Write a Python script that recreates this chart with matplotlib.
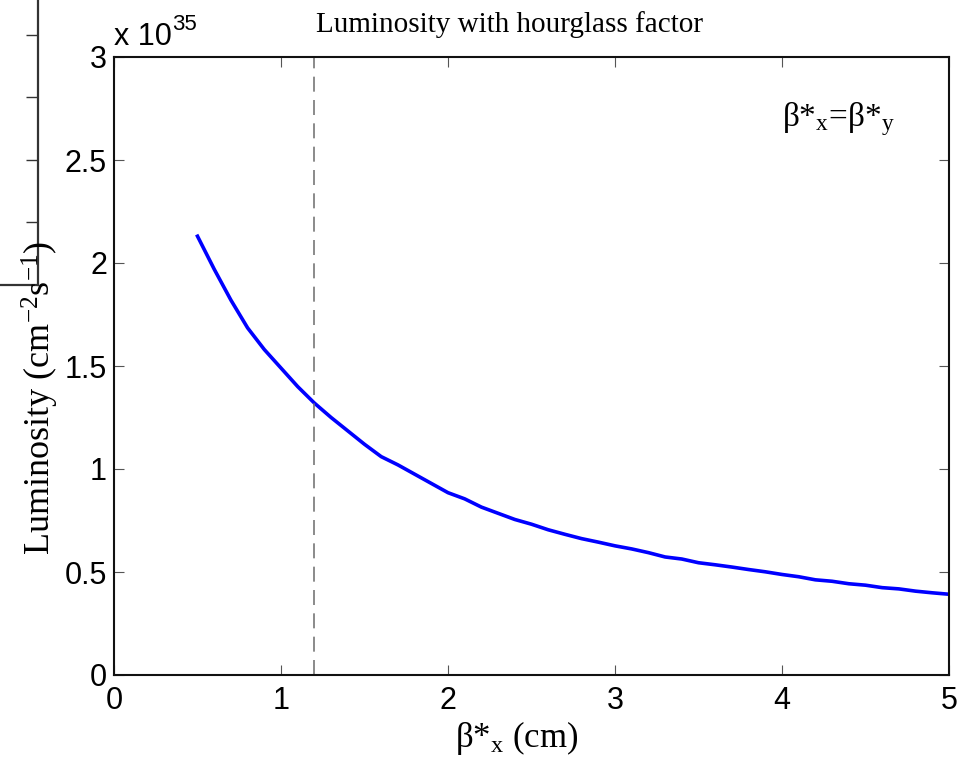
import matplotlib
matplotlib.use("Agg")
import matplotlib.pyplot as plt
import numpy as np

# beta*_x (cm) and luminosity (units of 1e35 cm^-2 s^-1)
beta_x = [0.5, 0.6, 0.7, 0.8, 0.9, 1.0, 1.1, 1.2, 1.3, 1.4,
          1.5, 1.6, 1.7, 1.8, 1.9, 2.0, 2.1, 2.2, 2.3, 2.4,
          2.5, 2.6, 2.7, 2.8, 2.9, 3.0, 3.1, 3.2, 3.3, 3.4,
          3.5, 3.6, 3.7, 3.8, 3.9, 4.0, 4.1, 4.2, 4.3, 4.4,
          4.5, 4.6, 4.7, 4.8, 4.9, 5.0]
lumi = [2.13, 1.97, 1.82, 1.685, 1.58, 1.49, 1.40, 1.32, 1.25, 1.185,
        1.12, 1.06, 1.02, 0.975, 0.93, 0.885, 0.855, 0.815, 0.785, 0.755,
        0.732, 0.705, 0.683, 0.662, 0.645, 0.627, 0.612, 0.594, 0.573, 0.563,
        0.545, 0.535, 0.524, 0.512, 0.501, 0.488, 0.477, 0.462, 0.455, 0.443,
        0.436, 0.424, 0.418, 0.407, 0.399, 0.392]
beta_cut = 1.2
xticks = [0, 1, 2, 3, 4, 5]
yticks = [0, 0.5, 1, 1.5, 2, 2.5, 3]
ytick_labels = ['0', '0.5', '1', '1.5', '2', '2.5', '3']

W, H = 959, 761
fig = plt.figure(figsize=(W / 100, H / 100), dpi=100)

sans = 'Liberation Sans'
serif = 'Liberation Serif'
plt.rcParams['mathtext.fontset'] = 'custom'
plt.rcParams['mathtext.rm'] = serif
plt.rcParams['mathtext.it'] = serif + ':italic'

# stray piece of another axes at the top-left edge
ax0 = fig.add_axes([-0.3, 1 - 285 / H, 0.3 + 38 / W, 285 / H])
ax0.set_ylim(285, 0)
ax0.set_xlim(0, 1)
for s in ['left', 'top']:
    ax0.spines[s].set_visible(False)
for s in ['right', 'bottom']:
    ax0.spines[s].set_color('#333333')
    ax0.spines[s].set_linewidth(1.6)
ax0.set_xticks([])
ax0.set_yticks([35, 97, 160, 222])
ax0.tick_params(axis='y', which='both', left=False, right=True, labelleft=False,
                direction='in', length=9, width=1, color='#333333')

ax = fig.add_axes([114 / W, 1 - 675 / H, (949 - 114) / W, (675 - 57) / H])
ax.plot(beta_x, lumi, color='#0000ff', lw=2.6, solid_joinstyle='round')
ax.axvline(beta_cut, color='#777777', lw=1.2, dashes=(9, 5))

ax.set_xlim(0, 5)
ax.set_ylim(0, 3)
ax.set_xticks(xticks)
ax.set_yticks(yticks)
ax.set_yticklabels(ytick_labels)
ax.tick_params(direction='in', length=7, width=0.8, color='#555555',
               top=True, right=True, labelsize=22)
ax.tick_params(axis='x', pad=8)
ax.tick_params(axis='y', pad=5)
for lab in ax.get_xticklabels() + ax.get_yticklabels():
    lab.set_fontfamily(sans)
for s in ax.spines.values():
    s.set_linewidth(1.5)
    s.set_color('#111111')

# exponent label, MATLAB style
fig.text(114 / W, 1 - 45 / H, 'x 10', fontsize=22, family=sans,
         ha='left', va='baseline')
fig.text(172 / W, 1 - 30 / H, '35', fontsize=16, family=sans,
         ha='left', va='baseline')

fig.text(509 / W, 1 - 25 / H, 'Luminosity with hourglass factor', fontsize=21,
         family=serif, ha='center', va='center')
fig.text(517 / W, 1 - 747 / H, r'$\mathrm{\beta}$*$_\mathrm{x}$ (cm)', fontsize=25,
         family=serif, ha='center', va='baseline')
fig.text(40 / W, 1 - 398 / H, r'Luminosity (cm$^{\mathrm{-2}}$s$^{\mathrm{-1}}$)',
         fontsize=26, family=serif, rotation=90, ha='center', va='center')
ax.text(0.8, 0.9, r'$\mathrm{\beta}$*$_\mathrm{x}$=$\mathrm{\beta}$*$_\mathrm{y}$',
        transform=ax.transAxes, fontsize=24, family=serif, ha='left', va='center')

fig.savefig('out.png', dpi=100)
